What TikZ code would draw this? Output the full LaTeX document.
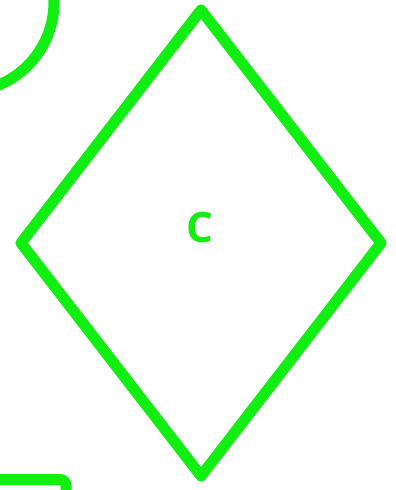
\documentclass[tikz,border=0pt]{standalone}
\usepackage{fontspec}
\setmainfont{Open Sans}
\definecolor{grn}{RGB}{17,238,17}
\begin{document}
\begin{tikzpicture}[x=1pt,y=-1pt,
  shapeline/.style={draw=grn, line width=11pt, line join=round},
  lbl/.style={text=grn, font=\bfseries\fontsize{42}{46}\selectfont, inner sep=0pt}]
\useasboundingbox (0,0) rectangle (396,490);
\clip (0,0) rectangle (396,490);
% partial circle, top left
\coordinate (cc) at (-36,2);
\draw[shapeline] (cc) circle (90);
% partial rectangle, bottom left
\coordinate (r1) at (-100,479.5);
\coordinate (r2) at (66,479.5);
\coordinate (r3) at (66,600);
\draw[shapeline, rounded corners=6pt] (r1) -- (r2) -- (r3);
% diamond
\coordinate (t) at (201,10);
\coordinate (r) at (381,243);
\coordinate (b) at (201,476);
\coordinate (l) at (21,243);
\draw[shapeline] (t) -- (r) -- (b) -- (l) -- cycle;
\node[lbl] (c) at (199.5,227) {C};
\end{tikzpicture}
\end{document}
